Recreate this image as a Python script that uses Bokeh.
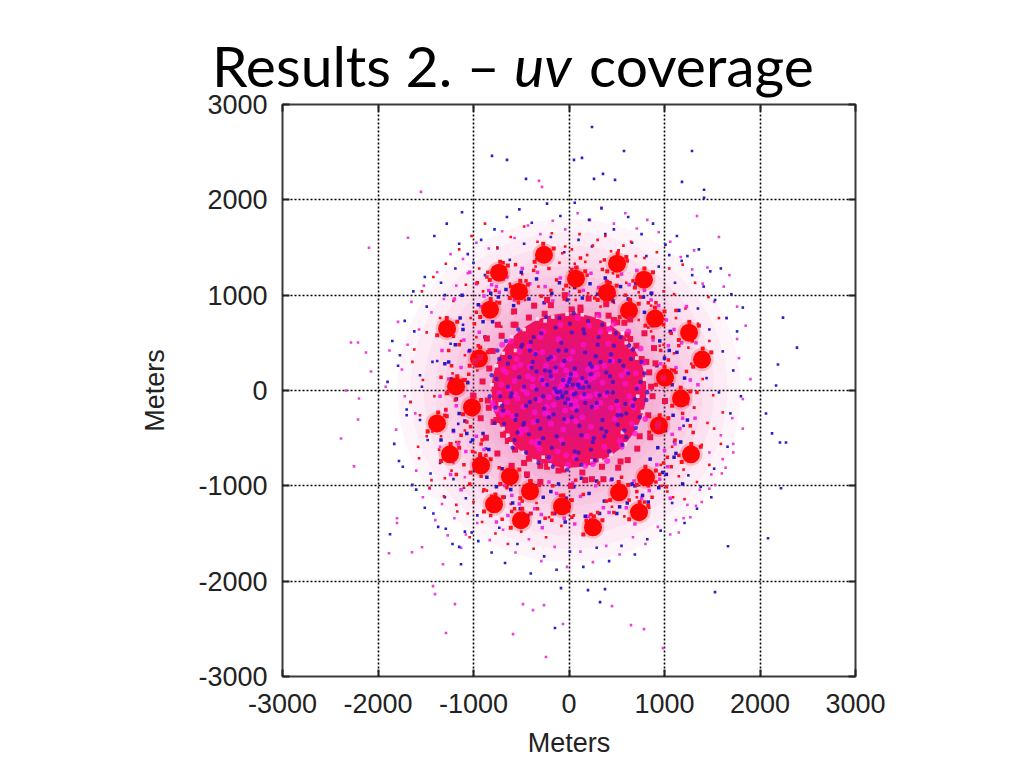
from bokeh.plotting import figure
from bokeh.layouts import column
from bokeh.models import Div, LinearAxis, FixedTicker, Range1d
from bokeh.embed import file_html
from bokeh.resources import INLINE

title_parts = ["Results 2. –", "uv", "coverage"]
x_label = "Meters"
y_label = "Meters"
ticks = [-3000, -2000, -1000, 0, 1000, 2000, 3000]
tick_labels = {-3000: "-3000", -2000: "-2000", -1000: "-1000", 0: "0", 1000: "1000", 2000: "2000", 3000: "3000"}

# Centres of the 32 dense red clumps
clump_x = [-262,-733,-524,-827,-1277,-942,-1183,-1016,-1382,-1246,-921,-618,-408,-785,-503,-73,
           251,524,733,806,942,1277,1173,1005,1393,1257,901,628,398,785,503,73]
clump_y = [1424,1236,1037,848,649,335,42,-178,-346,-670,-785,-901,-1058,-1194,-1361,-1215,
           -1435,-1068,-1277,-911,-366,-670,-84,136,325,607,754,838,1026,1162,1330,1173]

# Speckle hugging the clumps, estimated by eye
speck_x = [-160,-360,-270,-640,-830,-720,-430,-620,-510,-730,-930,-820,-1170,-1380,-1280,-850,-1040,-930,-1090,-1280,-1170,-920,-1110,-1010,-1280,-1480,-1370,-1150,-1340,-1240,
 -820,-1030,-930,-520,-720,-610,-310,-510,-400,-690,-890,-770,-400,-610,-490,30,-170,-60,350,150,260,620,430,520,830,630,740,910,710,800,1040,840,950,1380,1180,1280,
 1270,1080,1170,1100,910,1000,1490,1300,1400,1360,1150,1260,1000,800,900,730,530,640,500,300,400,880,690,790,600,400,510,170,-30,80]
speck_y = [1490,1350,1540,1310,1160,1350,1110,970,1150,920,770,960,720,580,760,400,260,450,110,-30,150,-100,-250,-70,-270,-430,-230,-600,-740,-560,
 -720,-860,-670,-830,-980,-790,-990,-1130,-950,-1120,-1270,-1090,-1290,-1440,-1240,-1150,-1290,-1100,-1360,-1510,-1320,-990,-1150,-960,-1210,-1350,-1170,-840,-990,-800,-290,-440,-260,-590,-750,-560,
 -10,-160,30,210,60,250,400,250,440,680,530,720,830,680,870,910,770,950,1100,950,1140,1240,1080,1280,1400,1250,1440,1250,1100,1290]

# Estimated extents of the regions too dense to read point by point
core_radius = [810]
inner_core_radii = [620, 480, 320]
haze_radii = [900, 960, 1040, 1120, 1210, 1300, 1400, 1520, 1660, 1800]

# Points breaking up the edge of the disk, estimated by eye
fringe_x = [860,985,905,810,890,705,790,610,640,505,390,415,205,120,30,-45,-190,-255,-365,-420,-575,-560,-745,-705,-860,-800,-985,-835,-905,
 -1000,-850,-925,-790,-870,-690,-750,-565,-600,-420,-440,-230,-300,-60,20,140,170,345,360,540,515,715,615,850,740,935,830,1005,875,
 760,-760,640,-640,300,-300,-110,120,840,-840,930,-930,470,-470,580,-580,240,-230]
fringe_y = [40,130,285,300,445,470,600,585,745,715,905,785,965,830,850,1000,895,805,890,765,830,690,690,575,545,415,310,230,95,
 -55,-105,-290,-330,-495,-465,-660,-620,-790,-715,-880,-800,-960,-830,-1000,-860,-940,-800,-930,-745,-810,-610,-730,-490,-480,-345,-260,-110,-60,
 330,-310,540,-530,790,-790,-840,870,190,-180,-380,350,740,-760,710,690,-930,950]

# White gaps nibbling the disk's outer part, estimated by eye
gap_x = [790,710,600,560,410,300,140,-20,-170,-330,-470,-600,-690,-760,-805,-760,-690,-610,-480,-360,-200,-30,150,330,440,590,700,770,
 640,430,-250,-560,-720,-640,-270,240,560,720]
gap_y = [120,340,500,600,690,770,795,800,770,750,640,560,390,260,60,-200,-400,-560,-650,-740,-780,-810,-790,-730,-670,-560,-380,-220,
 460,610,730,420,-140,-470,-700,-740,-440,-60]

# Sparse points, estimated by eye
blue_x = [-806,-649,-450,52,241,576,136,356,262,482,1288,1183,1414,1414,2241,2387,2188,2168,2063,2126,2209,2272,2220,2084,
 1665,1529,199,377,325,-1874,-1131,-147,-84,
 -1410,-1280,-1120,-1630,-1510,-1720,-1850,-1790,-1900,-1660,-1560,-1480,-1350,-1210,-1080,-960,-1020,-1150,-1290,-1420,-1600,-1740,-1830,-1700,-1540,
 -1380,-1240,-1110,-1490,-1620,-1770,-1340,-1190,-1060,-920,-780,-650,-520,-390,-230,-90,60,210,340,470,620,760,880,1010,1130,1240,1360,1480,1590,1700,1820,
 1760,1650,1530,1410,1290,1180,1050,1110,1350,1470,1610,1720,1800,1690,1570,1440,1310,1200,1100,1250,1380,1520,1660,
 1490,1340,1210,1080,960,820,690,550,420,290,150,10,-130,-260,-400,-540,-670,-810,-950,-1090,-1220,-1370,-1510,-1640,-1780,
 -1700,-1560,-1430,-1300,-1150,-1000,-880,-750,-620,-470,-340,-190,-50,100,240,380,520,660,810,940,-1030,-1160,-870,-730,-1300,-1450]
blue_y = [2461,2419,2220,2419,2764,2513,2440,2272,2220,2209,2513,2188,2105,2021,764,450,272,52,-241,-450,-545,-545,-1026,-1550,
 -1634,-2115,-2094,-2084,-2220,-1508,-1822,-2492,-2073,
 1620,1750,1870,1040,1190,730,520,260,90,-120,-310,-520,-760,-930,-1130,-1310,-1490,-1640,-1450,-1290,-1040,-800,-560,-260,40,
 310,490,690,880,620,370,1130,1280,1430,1580,1690,1820,1900,1760,1960,1830,1970,1790,1910,1690,1820,1640,1750,1530,1620,1410,1480,1250,1280,1010,870,
 620,760,950,1090,1210,1360,1420,1130,860,640,410,210,-60,-240,-20,130,-180,-370,-540,-890,-1010,-820,-590,
 -1120,-1240,-1390,-1180,-1470,-1560,-1720,-1630,-1790,-1650,-1850,-1690,-1880,-1740,-1920,-1610,-1810,-1700,-1580,-1480,-1610,-1430,-1230,-990,-740,
 -200,160,300,1000,1540,1340,1210,1500,1370,1540,1380,1610,1450,1580,1510,1640,1470,1550,1410,1300,-540,-350,-610,-1440,-1120,-870]

magenta_x = [-1550,-1686,-2094,-2283,-2209,-2126,-2073,-2335,-314,-283,-2199,-2209,-2387,-2251,-1801,-1801,-1885,-1644,-1539,-1319,-1424,-1403,-1194,-1288,-586,-482,-377,-262,-241,-63,
 450,649,785,984,1570,1340,1680,1850,1760,1620,1450,1310,1780,1900,1820,1710,1590,1470,1640,1530,1390,1270,1150,1820,1720,1610,1490,1370,1240,1120,
 1760,1650,1520,1400,1290,1170,1060,940,820,710,590,470,340,220,90,-40,-170,-300,-430,-570,-700,-840,-970,-1110,-1240,-1380,-1520,-1650,-1790,
 -1690,-1570,-1440,-1310,-1180,-1060,-1720,-1610,-1480,-1350,-1210,-1090,-1600,-1460,-1330,-1200,-1080,-960,-830,-690,-560,-420,-290,-150,-20,120,250,390,530,670,800,930,
 1060,1200,1330,1470,1600,1720,-1750,-1880,-1920,-1810,-1530,-1400,-1270,-1130]
magenta_y = [2084,1602,1497,503,503,398,199,0,2199,2136,-84,-304,-503,-796,-1340,-1390,-1707,-1696,-1644,-1822,-2052,-2136,-2241,-2544,-2555,-2241,-2304,-2251,-2796,-2450,
 -2262,-2461,-2503,-2702,1610,1830,1210,680,880,1090,1290,1470,340,120,-90,-290,-470,-650,-810,-990,-1170,-1330,-1490,-400,-560,-720,-880,-1040,-1200,-1360,
 540,760,930,1120,1270,1400,1560,1660,1790,1700,1860,1750,1920,1790,1860,1690,1780,1640,1730,1600,1670,1490,1550,1380,1430,1240,1100,930,720,
 480,640,820,960,1100,1230,-60,-240,-420,-590,-760,-910,-840,-1030,-1190,-1340,-1510,-1390,-1570,-1460,-1700,-1560,-1790,-1640,-1850,-1690,-1800,-1630,-1720,-1540,-1610,-1430,
 -1510,-1340,-1210,-1030,-870,-650,220,420,40,-410,-1120,-1360,-1520,-1650]

red_x = [-1620,-1490,-1350,-1210,-1080,-940,-1540,-1420,-1290,-1150,-1020,-880,-750,-610,-470,-330,-180,-40,110,250,380,520,650,790,920,1050,1190,1320,1460,1570,
 1470,1350,1220,1100,1280,1400,1510,1610,1520,1390,1270,1150,1030,1210,1340,1470,1590,1450,1310,1190,1070,950,830,700,570,440,300,170,30,-100,
 -240,-370,-500,-640,-770,-910,-1040,-1170,-1310,-1440,-1570,-1490,-1360,-1230,-1100,-1000,-1280,-1410,-1530,-1640,-1560,-1430,-1300,-1180,-1060,-1150,-1340,-1460,-1580,-1660,
 -1220,-1090,-970,-1130,-1030,-900,-760,-620,-490,-350,-210,-70,60,190,330,460,600,730,860,990,1120,1250,
 -980,-860,-740,-610,-480,-340,-210,-80,50,180,320,450,580,710,840,970,1090,1200,1080,960,-1090,-1180,-1000,-900,-1060,-960,-840,-710,-590,-460,-320,-190,-60,70,200,330,470,600,730,860,990,1100]
red_y = [430,610,760,940,1110,1280,1040,1190,1330,1480,1620,1750,1490,1610,1720,1560,1650,1510,1640,1520,1620,1470,1560,1390,1450,1280,1320,1130,980,760,
 520,700,860,1010,280,120,-50,-230,-400,-570,-730,-900,-1060,-1140,-960,-780,-560,-340,-180,-20,220,470,660,1410,1520,1460,1580,1350,1480,1340,
 -1540,-1660,-1480,-1610,-1500,-1380,-1540,-1270,-1110,-940,-710,-480,-620,-840,-1020,-1170,-260,-60,110,300,-260,-430,-920,-1200,-1290,-540,-480,-1020,-590,-120,
 180,370,560,520,760,1040,930,1120,1220,1300,1390,1440,1330,1420,1350,1230,1130,1030,890,1040,760,450,
 -650,-1050,-1240,-1190,-1280,-1180,-1330,-1420,-1310,-1390,-1290,-1220,-1320,-1120,-1230,-1000,-1120,-830,-590,-780,-420,-540,-130,-1060,90,210,430,670,810,950,1090,1000,1060,950,1020,880,920,790,740,620,480,390]

# Denser speckle between the disk and the ring of clumps, estimated by eye
ring_blue_x = [-1110,-1040,-970,-1180,-1090,-1010,-930,-1150,-1230,-1060,-880,-800,-950,-1120,-1260,-1190,-1000,-860,-760,-680,-590,-510,-430,-350,-270,-190,-110,-30,50,130,210,290,370,450,530,610,690,770,850,930,
 1010,1090,1170,1080,1000,920,1130,1210,1060,950,870,790,1150,1240,1100,1020,940,860,780,700,620,540,460,380,300,220,140,60,-20,-100,-180,-260,-340,-420,-500,-580,-660,-740,-820,-900,
 -1140,-1070,-990,-1210,-900,-840,-700,-610,-440,-310,-150,-40,170,320,500,660,830,980,1120,1190,1050,1300,-1300,-1340]
ring_blue_y = [640,420,260,-90,-320,-520,-690,-240,120,80,560,720,900,1000,300,480,-60,-910,-1010,-1120,-1180,-1240,-1310,-1000,-1120,-1060,-980,-1130,-1010,-920,-1080,-950,-1160,-930,-1220,-1180,-1000,-1100,-720,-600,
 -420,-260,-540,60,340,260,400,130,620,520,680,820,840,-310,-700,-880,-1020,1020,980,1120,960,1090,940,1180,1010,1120,970,1080,950,1130,1020,920,1170,960,1240,890,1060,980,1020,720,
 760,-450,-840,-420,-450,-620,-820,-1040,-900,-1380,-1290,-1380,-1320,-1290,-1290,-980,-1170,-860,-660,-980,420,560,280,-520]

ring_mag_x = [-1260,-1180,-1100,-1020,-940,-1210,-1130,-1050,-970,-890,-1270,-1160,-1080,-1000,-920,-840,-760,-670,-600,-520,-440,-360,-290,-210,-130,-50,40,120,200,280,360,440,520,600,680,760,840,920,1000,1080,
 1160,1240,1120,1040,960,880,1180,1100,1020,940,860,1270,1190,1110,1030,950,870,790,710,630,550,470,390,310,230,150,70,-10,-90,-170,-250,-330,-410,-490,-570,-650,-730,-810,-890,-970,
 -1330,-1290,-1350,-1200,-760,-640,-280,-120,60,230,420,690,1060,1320,1350,1330,-1130,-1240,1230,-1040]
ring_mag_y = [120,-160,530,-40,610,-430,240,410,-480,-620,-30,-560,-640,-770,880,1050,1090,-1000,-1100,-1190,-1000,-1240,-1300,-960,-1080,-1340,-970,-1110,-1320,-1000,-1230,-940,-1130,-1230,-950,-1130,-1050,-780,-630,-460,
 -400,-140,240,470,280,530,500,640,740,890,950,110,-290,-560,-800,-930,1020,1050,1260,1110,1220,1000,1150,1080,1230,1050,1290,1010,1180,940,1090,1240,1120,1280,950,1190,1030,1110,990,1120,
 420,-210,-60,960,-1380,-1310,-1440,-1260,-1400,-1350,-1280,-1400,-1130,-290,60,500,-1040,-880,880,1240]

ring_red_x = [-1230,-1150,-1070,-990,-910,-1190,-1110,-1030,-950,-870,-1290,-1210,-1130,-1050,-970,-890,-810,-730,-650,-570,-490,-410,-330,-250,-170,-90,-10,70,150,230,310,390,470,550,630,710,790,870,950,1030,
 1110,1190,1270,1200,1120,1040,960,880,1150,1070,990,910,830,1230,1150,1070,990,910,830,750,670,590,510,430,350,270,190,110,30,-50,-130,-210,-290,-370,-450,-530,-610,-690,-770,-850,
 -1100,-1010,-920,-1340,-1300,-1260,-960,-860,-690,-560,-310,-190,120,370,610,1020,1300,1340,1290,1120,-920,-1040,-1180,-820,-700,-600,-180,30,180,300]
ring_red_y = [260,480,-330,700,-520,-100,110,-380,470,-680,-200,570,-470,170,820,-1040,-1110,-810,-1020,-1240,-1160,-950,-1240,-1340,-1000,-1100,-1260,-940,-1090,-1300,-970,-1160,-1280,-910,-1150,-1060,-1170,-1120,-880,-700,
 -520,-240,-370,-140,190,320,420,560,-680,-800,-760,-960,-1000,200,470,600,690,920,920,980,1150,1000,1200,1130,1270,970,1210,1040,1270,960,1160,1280,990,1260,1150,920,1090,1170,1050,1240,
 -780,-640,-560,140,-260,420,1130,1190,1340,1320,1370,1050,1390,1370,1360,-1010,-440,-20,520,840,-900,-980,-880,-1310,-1350,-1270,-1360,-1330,-1360,-1280]

# Specks seen over the dense central disk, estimated by eye
core_blue_x = [-760,-690,-620,-540,-470,-400,-330,-250,-180,-110,-40,30,110,180,250,330,400,470,550,620,690,-720,-640,-560,-490,-410,-340,-270,-190,-120,-50,20,100,170,240,310,390,460,530,600,
 -600,-520,-450,-380,-300,-230,-160,-80,-10,60,130,210,280,350,430,500,570,-480,-410,-340,-260,-190,-120,-50,30,100,170,240,320,390,460,
 -350,-280,-210,-140,-70,10,80,150,220,290,-270,-200,-130,-60,20,90,160,230,-150,-70,0,70,140,-90,-20,50,110,-30,40,
 -780,-700,-640,-570,-500,-420,-350,-290,-210,-140,-60,10,80,160,230,300,370,440,510,580,650,710,
 -810,-770,-730,-660,-590,-530,-450,-370,-320,-240,-170,-100,-20,50,130,200,270,350,420,490,560,630,700,760,810,790,740,670,600,540,
 -830,-750,-680,-610,-550,-470,-390,-310,-220,-130,-30,60,150,260,340,430,510,590,670,750,820]
core_blue_y = [120,-210,350,-440,40,510,-320,210,-600,420,-130,610,-370,90,-540,300,-20,470,-260,180,-90,-60,280,-310,480,-120,200,-500,350,-20,-300,170,-650,400,-170,560,-430,90,310,-240,
 -30,140,-160,300,-400,60,-250,500,-90,230,-470,40,360,-310,150,-110,260,-360,420,10,-190,150,-80,310,-280,60,-130,250,-50,190,-20,
 -90,110,-280,240,-50,120,-210,30,280,-130,-60,200,-10,110,-150,60,-40,170,20,-70,90,-30,130,-10,50,-40,30,-20,60,
 -340,-160,40,-520,460,-460,380,600,-700,660,-560,700,-720,600,-620,480,-480,380,-360,-420,330,20,
 160,-180,330,520,-600,640,-650,560,-760,770,-800,760,-830,810,-780,730,-730,690,-640,600,-570,470,-390,300,-100,180,-280,430,-490,560,
 -60,420,-350,-60,-260,-340,240,-550,330,-480,420,-640,640,-500,-400,310,-260,-140,-160,90,-20]

core_mag_x = [-730,-660,-590,-520,-450,-380,-300,-230,-160,-80,0,70,150,220,290,370,440,510,590,660,-700,-630,-550,-480,-410,-330,-260,-190,-110,-40,40,110,190,260,330,410,480,550,630,700,
 -650,-570,-500,-430,-360,-280,-210,-140,-60,10,80,160,230,300,380,450,520,600,-510,-440,-370,-290,-220,-150,-70,0,70,140,220,290,370,440,-380,-310,-240,-160,-90,-20,60,130,200,280,350,
 -250,-180,-110,-30,40,110,180,260,-140,-60,10,80,150,-40,30,70,-80,0,20,
 -560,-480,-390,-310,-120,-30,60,210,330,420,530,-610,-700,610,680,
 -800,-760,-710,-640,-570,-500,-420,-340,-270,-200,-90,-10,90,170,250,310,400,470,550,620,690,750,800,780,720,650,-790,-690,-540,-350]
core_mag_y = [-30,190,-270,410,-410,120,560,-170,340,-520,150,-320,480,-60,240,-590,320,-150,70,-350,-250,20,330,-170,250,-530,70,-350,540,-210,410,30,-480,230,-130,490,-300,160,-60,180,
 -120,100,-410,150,-230,400,-70,210,-410,330,-170,90,-380,170,-50,310,-210,200,270,-30,-330,130,-240,-10,270,-120,160,-280,120,-40,260,-180,40,-100,260,-150,10,-320,170,-70,220,-170,80,
 -240,130,-40,210,-180,90,-60,140,-20,70,-90,40,-60,110,-20,-110,50,80,-130,-40,10,
 -540,-610,-640,-680,-700,680,620,640,-530,520,480,190,-180,-130,-210,
 60,-230,240,-450,460,-570,620,-710,690,-780,760,-790,-770,790,-740,700,-590,620,-450,440,-300,290,40,-130,-160,220,-80,390,-560,-680]

DIV_H = 88
p = figure(width=1016, height=764 - DIV_H, output_backend="svg", toolbar_location=None,
           x_range=Range1d(-3000, 3000), y_range=Range1d(-3000, 3000),
           min_border_left=282, min_border_right=161, min_border_top=104 - DIV_H, min_border_bottom=88)
p.background_fill_color = "white"
p.border_fill_alpha = 0
p.outline_line_color = "#3a3a3a"
p.outline_line_width = 2

for axis in p.axis:
    axis.ticker = FixedTicker(ticks=ticks)
    axis.major_label_overrides = tick_labels
    axis.axis_line_color = None
    axis.major_tick_in = 7
    axis.major_tick_out = 0
    axis.minor_tick_line_color = None
    axis.major_tick_line_color = "#222222"
    axis.major_tick_line_width = 2
    axis.major_label_text_font = "Liberation Sans"
    axis.major_label_text_font_size = "27px"
    axis.major_label_text_color = "#222222"
    axis.axis_label_text_font = "Liberation Sans"
    axis.axis_label_text_font_size = "27px"
    axis.axis_label_text_font_style = "normal"
    axis.axis_label_text_color = "#222222"
p.xaxis.axis_label = x_label
p.yaxis.axis_label = y_label
p.xaxis.major_label_standoff = 17
p.yaxis.major_label_standoff = 15
p.xaxis.axis_label_standoff = 12
p.yaxis.axis_label_standoff = 25

for side in ("above", "right"):
    extra = LinearAxis(ticker=FixedTicker(ticks=ticks), axis_line_color=None, major_tick_in=7, major_tick_out=0,
                       minor_tick_line_color=None, major_tick_line_color="#222222", major_tick_line_width=2,
                       major_label_overrides={t: "" for t in ticks}, major_label_standoff=0)
    p.add_layout(extra, side)

p.grid.ticker = FixedTicker(ticks=ticks)
p.grid.grid_line_color = "#000000"
p.grid.grid_line_dash = "2 2"
p.grid.grid_line_width = 1.6

for r in haze_radii:
    p.circle([0], [0], radius=[r], fill_color="#e85aa8", fill_alpha=0.06, line_color=None)
p.scatter(magenta_x, magenta_y, size=2.6, marker="square", color="#ee40d8", line_color=None)
p.scatter(blue_x, blue_y, size=2.6, marker="square", color="#2a20c8", line_color=None)
p.scatter(red_x, red_y, size=2.6, marker="square", color="#ff1020", line_color=None)
p.scatter(ring_mag_x, ring_mag_y, size=3.5, marker="square", color="#f030e0", line_color=None)
p.scatter(ring_blue_x, ring_blue_y, size=3.5, marker="square", color="#2418c8", line_color=None)
p.scatter(ring_red_x, ring_red_y, size=3.5, marker="square", color="#ff1020", line_color=None)
p.scatter(speck_x, speck_y, size=4, marker="square", color="#ff1020", line_color=None)
p.scatter(clump_x, clump_y, size=23, fill_color="#ff1010", fill_alpha=0.2, line_color=None)
p.scatter(clump_x, clump_y, size=18, fill_color="#ff0505", line_color=None)
p.circle([0], [0], radius=core_radius, fill_color="#f0125e", line_color=None)
p.scatter(fringe_x, fringe_y, size=6, marker="square", fill_color="#f0124c", line_color=None)
p.scatter(gap_x, gap_y, size=3.6, marker="square", fill_color="#ffe0f0", fill_alpha=0.9, line_color=None)
for r in inner_core_radii:
    p.circle([0], [0], radius=[r], fill_color="#c010c0", fill_alpha=0.18, line_color=None)
p.scatter(core_mag_x, core_mag_y, size=6, fill_color="#ff10d0", fill_alpha=0.75, line_color=None)
p.scatter(core_blue_x, core_blue_y, size=4.4, fill_color="#3a14d0", fill_alpha=0.8, line_color=None)

title_left = [212, 514, 589]
styles = ["normal", "italic", "normal"]
spans = "".join(
    f'<span style="position:absolute;left:{x}px;top:30px;line-height:70px;font-style:{s};white-space:nowrap">{t}</span>'
    for t, x, s in zip(title_parts, title_left, styles))
title = Div(text=spans, width=1016, height=DIV_H, margin=(0, 0, 0, 0),
            styles={"font-family": "Lato", "font-size": "57px", "color": "#000", "overflow": "visible"})

open("out.html", "w").write(file_html(column(title, p, spacing=0), INLINE))
